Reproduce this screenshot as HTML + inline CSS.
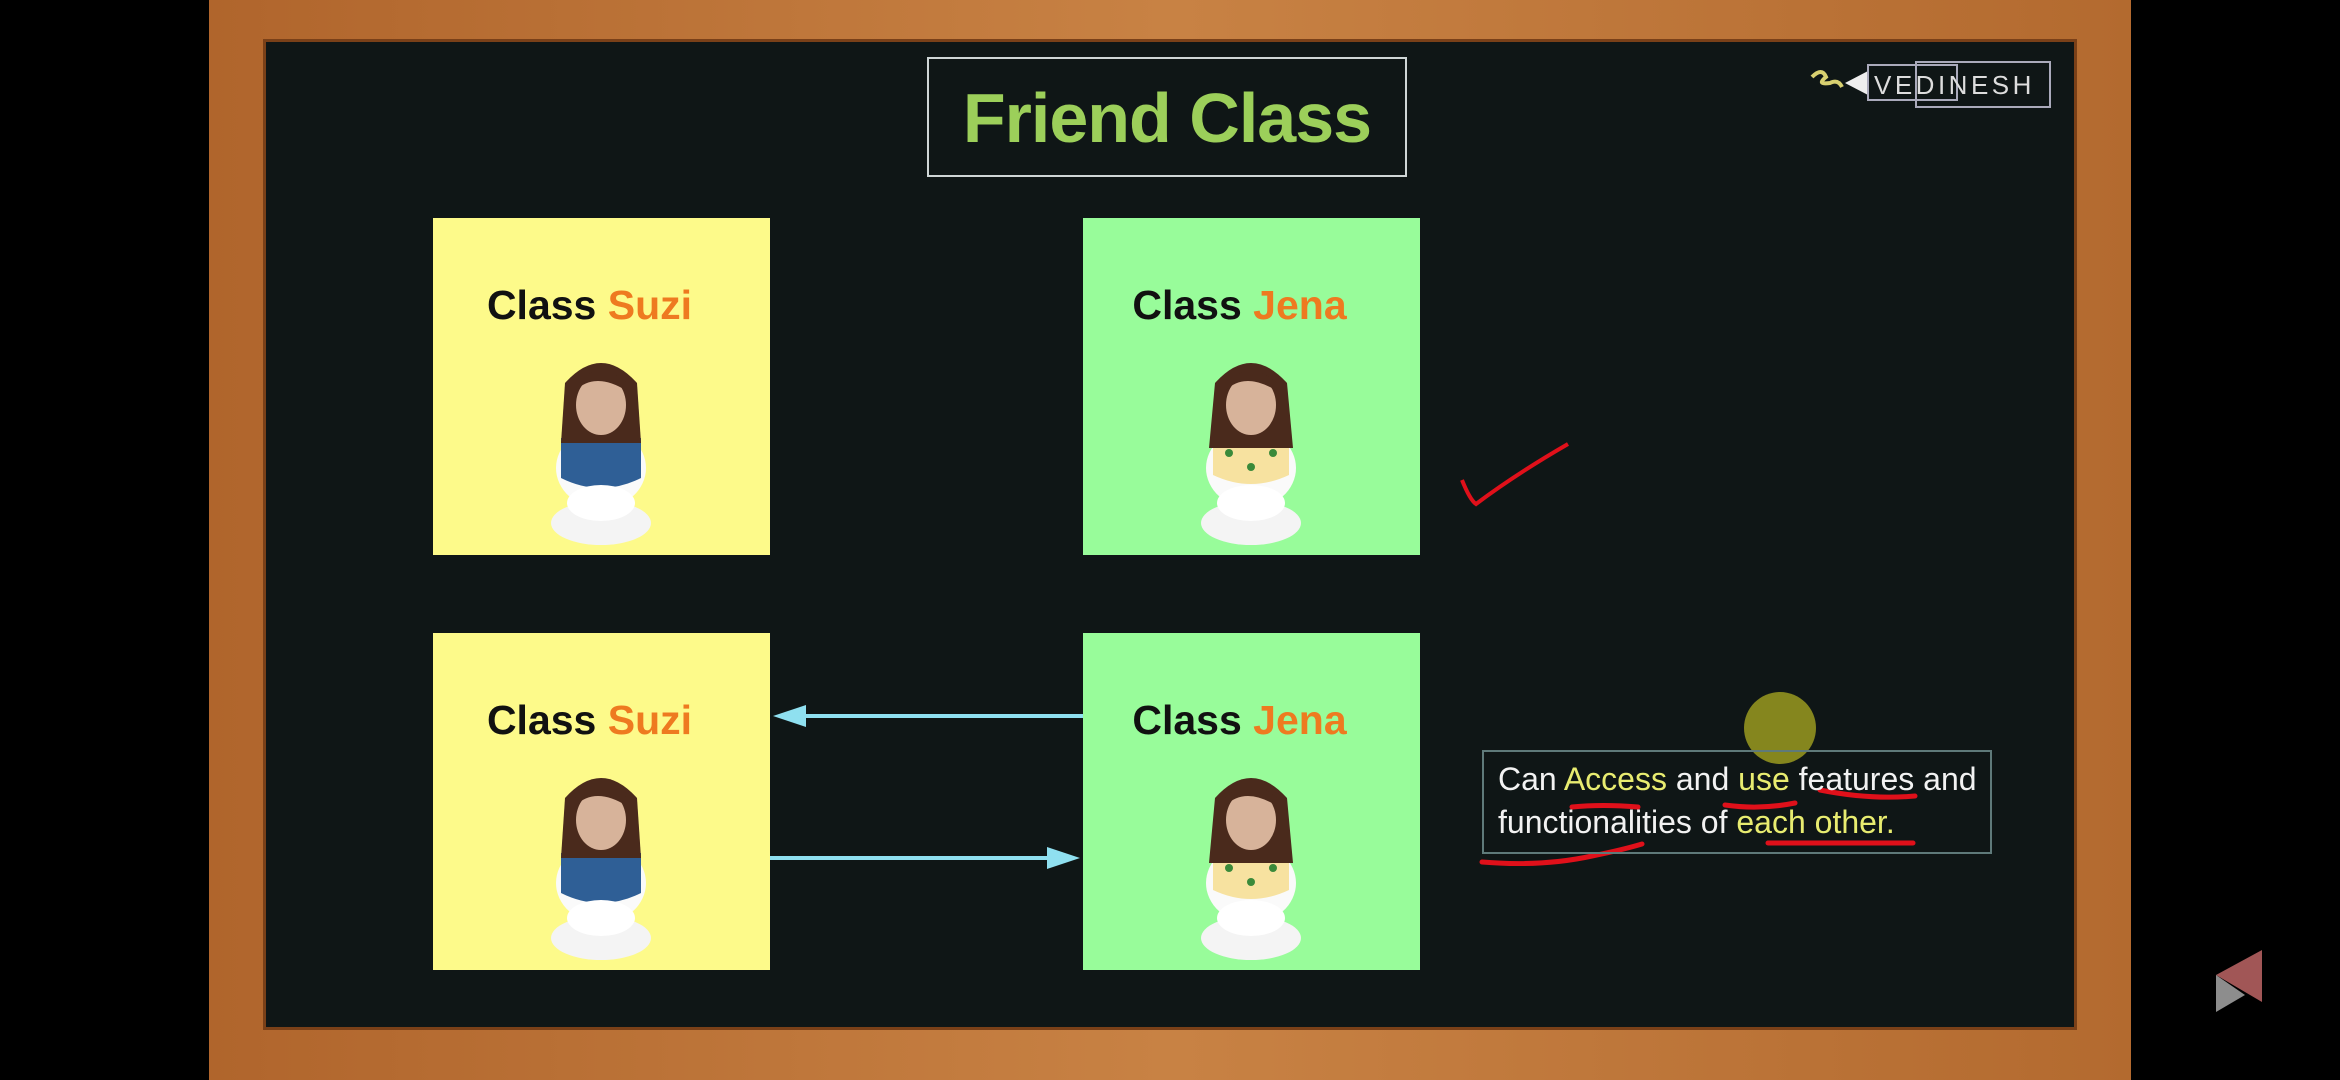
<!DOCTYPE html>
<html><head><meta charset="utf-8"><style>
body{margin:0;width:2340px;height:1080px;background:#000;position:relative;overflow:hidden;font-family:"Liberation Sans",sans-serif}
.a{position:absolute}
.frame{left:209px;top:0;width:1922px;height:1080px;background:linear-gradient(90deg,#b0652c,#c88244 50%,#b36a2f);}
.board{left:266px;top:42px;width:1808px;height:985px;background:#0f1616;box-shadow:0 0 0 3px #7a4018}
.title{left:927px;top:57px;width:480px;height:120px;border:2px solid #cfd6d6;box-sizing:border-box;color:#9ccf5a;font-size:70px;font-weight:bold;text-align:center;line-height:118px;letter-spacing:-1px}
.box{width:337px;height:337px}
.y{background:#fdfa8a}.g{background:#98fc9a}
.lbl{position:absolute;top:64px;left:-12px;width:100%;text-align:center;font-weight:bold;font-size:41px;color:#111}
.lbl span{color:#ee7a20}
.fig{position:absolute;left:98px;top:145px}
.txt{left:1482px;top:750px;width:510px;height:104px;border:2px solid #5f7a7a;box-sizing:border-box;color:#f2f2f2;font-size:32px;line-height:43px;padding:6px 0 0 14px}
.txt b{font-weight:normal;color:#e8ec70}
</style></head><body>
<div class="a frame"></div>
<div class="a board"></div>
<div class="a title">Friend Class</div>
<svg class="a" style="left:1800px;top:55px" width="260" height="60">
<path d="M12 22 q10 -10 14 0 q-10 8 4 6 q8 -4 12 4" stroke="#d8d070" stroke-width="4" fill="none"/>
<polygon points="45,28 68,16 68,40" fill="#eee"/>
<rect x="68" y="10" width="89" height="35" fill="none" stroke="#aab" stroke-width="2"/>
<rect x="116" y="7" width="134" height="45" fill="none" stroke="#aab" stroke-width="2"/>
<text x="74" y="39" font-family="Liberation Sans" font-size="26" fill="#ddd" letter-spacing="3.5">VEDINESH</text>
</svg>
<svg width="0" height="0" style="position:absolute"><defs>
<g id="fs"><ellipse cx="50" cy="160" rx="50" ry="22" fill="#f4f4f4"/><ellipse cx="50" cy="105" rx="45" ry="40" fill="#fafafa"/><path d="M10 75 h80 v40 q-40 20 -80 0z" fill="#2f5f96"/><path d="M14 20 q36 -40 72 0 l4 60 h-80z" fill="#4a2a1c"/><ellipse cx="50" cy="42" rx="25" ry="30" fill="#d7b39a"/><path d="M24 28 q20 -20 52 0 l0 -8 q-26 -24 -52 0z" fill="#4a2a1c"/><ellipse cx="50" cy="140" rx="34" ry="18" fill="#fff"/></g>
<g id="fj"><ellipse cx="50" cy="160" rx="50" ry="22" fill="#f4f4f4"/><ellipse cx="50" cy="105" rx="45" ry="40" fill="#fafafa"/><path d="M12 72 h76 v40 q-38 18 -76 0z" fill="#f7e2a0"/><circle cx="28" cy="90" r="4" fill="#3a8a3a"/><circle cx="72" cy="90" r="4" fill="#3a8a3a"/><circle cx="50" cy="104" r="4" fill="#3a8a3a"/><path d="M14 20 q36 -40 72 0 l6 65 h-84z" fill="#4a2a1c"/><ellipse cx="50" cy="42" rx="25" ry="30" fill="#d7b39a"/><path d="M24 28 q20 -20 52 0 l0 -8 q-26 -24 -52 0z" fill="#4a2a1c"/><ellipse cx="50" cy="140" rx="34" ry="18" fill="#fff"/></g>
</defs></svg>
<div class="a box y" style="left:433px;top:218px"><div class="lbl">Class <span>Suzi</span></div><svg class="fig" width="140" height="190"><use href="#fs" x="20"/></svg></div>
<div class="a box g" style="left:1083px;top:218px"><div class="lbl">Class <span>Jena</span></div><svg class="fig" width="140" height="190"><use href="#fj" x="20"/></svg></div>
<div class="a box y" style="left:433px;top:633px"><div class="lbl">Class <span>Suzi</span></div><svg class="fig" width="140" height="190"><use href="#fs" x="20"/></svg></div>
<div class="a box g" style="left:1083px;top:633px"><div class="lbl">Class <span>Jena</span></div><svg class="fig" width="140" height="190"><use href="#fj" x="20"/></svg></div>
<svg class="a" style="left:0;top:0" width="2340" height="1080">
<line x1="1083" y1="716" x2="800" y2="716" stroke="#8fe0f0" stroke-width="4"/>
<polygon points="773,716 806,705 806,727" fill="#8fe0f0"/>
<line x1="770" y1="858" x2="1052" y2="858" stroke="#8fe0f0" stroke-width="4"/>
<polygon points="1080,858 1047,847 1047,869" fill="#8fe0f0"/>
<path d="M1462 480 q8 20 14 24 q40 -30 92 -60" stroke="#e0101a" stroke-width="4" fill="none"/>
<circle cx="1780" cy="728" r="36" fill="#9a9a20" opacity=".85"/>
<g stroke="#e0101a" stroke-width="5" fill="none" stroke-linecap="round">
<path d="M1572 807 q30 -3 66 0"/><path d="M1725 805 q35 5 70 -2"/><path d="M1820 790 q50 10 95 6"/>
<path d="M1482 862 q60 5 110 -6 q30 -6 50 -12"/><path d="M1768 843 h145"/>
</g>
<polygon points="2216,975 2262,950 2262,1002" fill="#c96b6b" opacity=".8"/>
<polygon points="2216,975 2245,995 2216,1012" fill="#b0b0b0" opacity=".8"/>
</svg>
<div class="a txt">Can <b>Access</b> and <b>use</b> features and<br>functionalities of <b>each other.</b></div>
</body></html>
